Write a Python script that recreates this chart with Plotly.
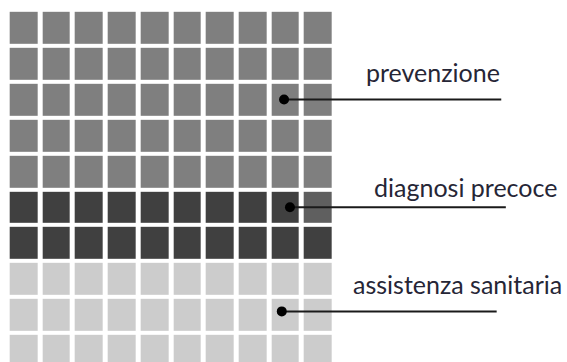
import plotly.graph_objects as go

# Waffle chart: 100 cells split across three areas of spending
categories = ["prevenzione", "diagnosi precoce", "assistenza sanitaria"]
counts = [50, 20, 30]
cell_colors = ["#7f7f7f", "#404040", "#cccccc"]

# one cell of the dark band is drawn in a slightly lighter shade
accent_cell = (5, 9)          # (row, column)
accent_color = "#5f5f5f"

# cell each label is attached to (row, column) and where its leader line ends
label_cells = [(2, 7.95), (5, 8.13), (7.9, 7.88)]
line_ends = [14.59, 14.73, 14.45]
label_pos = [(12.5, 1.22), (13.5, 4.44), (13.25, 7.15)]

n_rows, n_cols = 10, 10

# build the grid row by row, top to bottom
codes = []
for i, c in enumerate(counts):
    codes += [i] * c
z = [codes[r * n_cols:(r + 1) * n_cols] for r in range(n_rows)]
z[accent_cell[0]][accent_cell[1]] = len(categories)

palette = cell_colors + [accent_color]
k = len(palette)
colorscale = []
for i, col in enumerate(palette):
    colorscale.append([i / k, col])
    colorscale.append([(i + 1) / k, col])

fig = go.Figure()
fig.add_trace(go.Heatmap(
    z=z,
    x=list(range(n_cols)),
    y=list(range(n_rows)),
    colorscale=colorscale,
    zmin=-0.5, zmax=k - 0.5,
    showscale=False,
    xgap=5, ygap=4,
    hoverinfo="skip",
))

for (r, c), xe in zip(label_cells, line_ends):
    fig.add_trace(go.Scatter(
        x=[c, xe], y=[r, r], mode="lines",
        line=dict(color="#1a1a1a", width=2),
        hoverinfo="skip", showlegend=False,
    ))
    fig.add_trace(go.Scatter(
        x=[c], y=[r], mode="markers",
        marker=dict(color="#000000", size=10),
        hoverinfo="skip", showlegend=False,
    ))

for name, (lx, ly) in zip(categories, label_pos):
    fig.add_annotation(
        x=lx, y=ly, text=name, showarrow=False,
        xanchor="center", yanchor="middle",
        font=dict(family="Lato", size=25, color="#262636"),
    )

fig.update_xaxes(range=[-0.734, 16.6], visible=False, fixedrange=True)
fig.update_yaxes(range=[9.31, -0.773], visible=False, fixedrange=True)
fig.update_layout(
    width=567, height=362,
    margin=dict(l=0, r=0, t=0, b=0),
    paper_bgcolor="white", plot_bgcolor="white",
    showlegend=False,
)

fig.write_html("out.html")
